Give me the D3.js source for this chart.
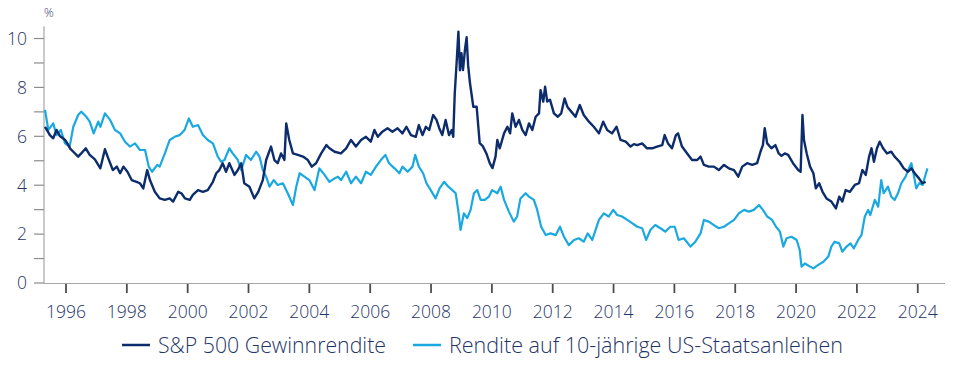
<!DOCTYPE html>
<html><head><meta charset="utf-8">
<script src="https://cdn.jsdelivr.net/npm/d3@7"></script>
<style>
html,body{margin:0;padding:0;background:#fff;}
svg text{font-family:"Open Sans","Noto Sans",sans-serif;font-weight:300;fill:#1f3566;}
</style></head>
<body><svg id="chart" width="954" height="369"></svg>
<script>
const seriesNames = ["S&P 500 Gewinnrendite", "Rendite auf 10-jährige US-Staatsanleihen"];
const seriesColors = ["#0c2c6c", "#1aa8e0"];
const xTicks = [1996,1998,2000,2002,2004,2006,2008,2010,2012,2014,2016,2018,2020,2022,2024];
const yTicks = [0,2,4,6,8,10];
const yMinorTicks = [1,3,5,7,9];

const spDates = [1995.31,1995.40,1995.47,1995.58,1995.69,1995.80,1995.97,1996.05,1996.13,1996.24,1996.40,1996.50,1996.65,1996.78,1996.95,1997.13,1997.28,1997.39,1997.54,1997.67,1997.78,1997.89,1998.02,1998.16,1998.32,1998.43,1998.54,1998.67,1998.76,1998.92,1999.08,1999.25,1999.41,1999.52,1999.69,1999.80,1999.91,2000.07,2000.17,2000.34,2000.50,2000.66,2000.83,2000.94,2001.04,2001.15,2001.26,2001.37,2001.54,2001.65,2001.76,2001.86,2002.03,2002.19,2002.32,2002.47,2002.58,2002.74,2002.85,2002.96,2003.07,2003.18,2003.24,2003.34,2003.46,2003.62,2003.79,2003.95,2004.08,2004.22,2004.39,2004.56,2004.66,2004.83,2005.04,2005.21,2005.37,2005.53,2005.70,2005.86,2006.02,2006.14,2006.25,2006.40,2006.57,2006.73,2006.90,2007.06,2007.19,2007.34,2007.50,2007.60,2007.72,2007.83,2007.94,2008.07,2008.18,2008.27,2008.37,2008.48,2008.59,2008.68,2008.73,2008.78,2008.84,2008.90,2008.95,2009.00,2009.05,2009.12,2009.17,2009.22,2009.28,2009.39,2009.50,2009.60,2009.70,2009.82,2009.93,2010.02,2010.12,2010.18,2010.26,2010.40,2010.51,2010.60,2010.67,2010.78,2010.89,2011.00,2011.11,2011.22,2011.33,2011.44,2011.55,2011.60,2011.69,2011.75,2011.82,2011.91,2012.04,2012.17,2012.28,2012.39,2012.48,2012.61,2012.75,2012.89,2013.02,2013.19,2013.35,2013.52,2013.66,2013.79,2013.95,2014.10,2014.23,2014.40,2014.56,2014.67,2014.78,2014.94,2015.10,2015.27,2015.43,2015.60,2015.68,2015.79,2015.92,2016.05,2016.12,2016.25,2016.42,2016.58,2016.75,2016.86,2016.97,2017.13,2017.30,2017.46,2017.63,2017.79,2017.96,2018.10,2018.23,2018.39,2018.56,2018.72,2018.83,2018.91,2018.97,2019.05,2019.19,2019.32,2019.43,2019.52,2019.63,2019.74,2019.90,2020.07,2020.15,2020.21,2020.26,2020.35,2020.46,2020.57,2020.65,2020.76,2020.87,2021.00,2021.16,2021.31,2021.42,2021.52,2021.63,2021.77,2021.93,2022.07,2022.18,2022.29,2022.40,2022.48,2022.56,2022.66,2022.75,2022.86,2022.99,2023.13,2023.24,2023.40,2023.54,2023.68,2023.79,2023.90,2024.04,2024.15,2024.26];
const spValues = [6.39,6.20,6.05,5.92,6.26,6.01,5.85,5.70,5.51,5.37,5.17,5.30,5.51,5.24,5.06,4.69,5.47,5.10,4.62,4.76,4.49,4.76,4.55,4.21,4.14,4.08,3.87,4.62,4.21,3.73,3.46,3.40,3.46,3.33,3.73,3.66,3.46,3.40,3.60,3.80,3.73,3.80,4.14,4.49,4.62,4.90,4.55,4.90,4.42,4.62,4.90,4.08,3.94,3.46,3.73,4.21,5.03,5.58,5.03,4.90,5.30,5.03,6.53,5.85,5.30,5.24,5.17,5.03,4.76,4.90,5.30,5.64,5.51,5.37,5.30,5.51,5.85,5.58,5.85,5.98,5.78,6.26,5.98,6.19,6.33,6.19,6.33,6.12,6.39,6.05,5.98,6.46,6.05,6.39,6.26,6.87,6.67,6.33,6.05,6.67,6.05,6.26,5.98,7.76,8.99,10.28,8.70,9.40,8.71,9.60,10.05,8.90,8.18,7.21,7.21,5.72,5.60,5.30,4.90,4.70,5.17,5.85,5.51,6.12,6.39,6.12,6.94,6.39,6.67,6.26,6.05,6.53,6.26,6.80,6.94,7.89,7.42,8.03,7.42,7.50,6.94,6.80,6.94,7.55,7.21,7.01,6.80,7.28,6.87,6.60,6.39,6.12,6.60,6.26,6.12,6.39,5.85,5.78,5.58,5.68,5.64,5.71,5.51,5.51,5.58,5.64,6.05,5.71,5.51,6.05,6.12,5.58,5.30,5.03,5.03,5.17,4.83,4.76,4.76,4.62,4.83,4.69,4.62,4.35,4.76,4.90,4.83,4.90,5.37,5.64,6.33,5.71,5.51,5.64,5.30,5.20,5.30,5.24,4.90,4.62,4.55,6.87,5.85,5.30,4.76,4.49,3.87,4.08,3.73,3.46,3.33,3.05,3.53,3.33,3.80,3.73,4.01,4.08,4.62,4.42,5.17,5.51,4.96,5.51,5.78,5.51,5.30,5.37,5.17,4.96,4.69,4.55,4.69,4.49,4.28,4.08,4.14];

const tyDates = [1995.31,1995.42,1995.58,1995.69,1995.83,1995.97,1996.12,1996.24,1996.40,1996.50,1996.67,1996.78,1996.91,1997.06,1997.13,1997.28,1997.45,1997.61,1997.78,1997.94,1998.10,1998.27,1998.43,1998.60,1998.72,1998.83,1999.00,1999.08,1999.25,1999.41,1999.57,1999.74,1999.90,2000.04,2000.17,2000.34,2000.50,2000.66,2000.83,2000.99,2001.10,2001.21,2001.37,2001.48,2001.65,2001.76,2001.92,2002.08,2002.25,2002.36,2002.47,2002.58,2002.69,2002.83,2002.96,2003.13,2003.29,2003.46,2003.57,2003.68,2003.84,2004.00,2004.17,2004.33,2004.50,2004.66,2004.83,2004.94,2005.04,2005.21,2005.37,2005.53,2005.70,2005.86,2006.02,2006.19,2006.35,2006.50,2006.62,2006.80,2006.96,2007.06,2007.23,2007.39,2007.48,2007.60,2007.74,2007.85,2007.99,2008.15,2008.28,2008.43,2008.57,2008.70,2008.81,2008.90,2008.97,2009.08,2009.19,2009.30,2009.41,2009.52,2009.63,2009.77,2009.90,2010.01,2010.18,2010.29,2010.40,2010.56,2010.72,2010.83,2010.94,2011.11,2011.22,2011.38,2011.49,2011.62,2011.77,2011.93,2012.10,2012.24,2012.37,2012.53,2012.70,2012.86,2013.02,2013.15,2013.30,2013.41,2013.52,2013.68,2013.84,2013.99,2014.12,2014.28,2014.45,2014.62,2014.78,2014.94,2015.07,2015.21,2015.37,2015.54,2015.70,2015.87,2016.01,2016.14,2016.31,2016.53,2016.69,2016.86,2016.97,2017.13,2017.30,2017.46,2017.63,2017.79,2017.96,2018.12,2018.29,2018.45,2018.61,2018.78,2018.91,2019.05,2019.21,2019.34,2019.47,2019.58,2019.69,2019.85,2020.02,2020.12,2020.18,2020.29,2020.46,2020.57,2020.73,2020.90,2021.06,2021.16,2021.27,2021.42,2021.52,2021.66,2021.79,2021.90,2022.04,2022.15,2022.26,2022.37,2022.44,2022.59,2022.70,2022.80,2022.88,2023.02,2023.13,2023.24,2023.35,2023.46,2023.60,2023.71,2023.79,2023.86,2023.95,2024.05,2024.16,2024.27,2024.32];
const tyValues = [7.08,6.26,6.53,6.05,6.26,5.71,5.58,6.39,6.87,7.01,6.80,6.60,6.12,6.60,6.39,6.94,6.67,6.26,6.12,5.78,5.58,5.71,5.44,5.44,4.76,4.55,4.83,4.76,5.30,5.85,5.98,6.05,6.26,6.73,6.39,6.46,6.05,5.85,5.71,5.17,4.96,5.03,5.51,5.30,5.03,4.62,5.24,5.03,5.37,5.17,4.62,4.35,3.94,4.21,4.01,4.08,3.67,3.19,3.94,4.49,4.35,4.21,3.80,4.69,4.42,4.14,4.28,4.35,4.21,4.55,4.08,4.35,4.08,4.55,4.42,4.76,5.03,5.24,4.90,4.69,4.49,4.76,4.55,4.76,5.24,4.76,4.49,4.08,3.80,3.46,3.87,4.14,3.94,3.80,3.67,2.92,2.17,2.85,2.65,2.99,3.67,3.80,3.40,3.40,3.53,3.80,3.67,3.94,3.40,2.92,2.51,2.72,3.46,3.67,3.53,3.40,2.99,2.30,1.96,2.03,1.96,2.30,1.89,1.55,1.76,1.83,1.69,2.03,1.76,2.17,2.58,2.85,2.72,2.99,2.78,2.72,2.58,2.44,2.30,2.24,1.76,2.17,2.37,2.24,2.10,2.30,2.30,1.76,1.83,1.49,1.69,2.03,2.58,2.51,2.37,2.24,2.30,2.44,2.58,2.85,2.99,2.92,2.99,3.19,2.99,2.72,2.58,2.30,2.10,1.49,1.83,1.89,1.76,1.35,0.67,0.80,0.67,0.60,0.74,0.87,1.08,1.49,1.69,1.62,1.28,1.49,1.62,1.42,1.76,1.96,2.72,2.99,2.78,3.40,3.12,4.21,3.67,3.94,3.53,3.40,3.67,4.08,4.35,4.69,4.90,4.49,3.87,4.08,4.01,4.49,4.69];

const svg = d3.select("#chart");
const x = d3.scaleLinear().domain([1995.277, 2024.896]).range([44, 945]);
const y = d3.scaleLinear().domain([0, 10.5]).range([283, 26.3]);

// y axis line and ticks
svg.append("line").attr("x1",44).attr("x2",44).attr("y1",y(10.5)).attr("y2",y(0))
  .attr("stroke","#a6a6a6").attr("stroke-width",1.2);
svg.selectAll(".ytick").data(yTicks.concat(yMinorTicks)).enter().append("line")
  .attr("x1",34).attr("x2",44).attr("y1",d=>y(d)).attr("y2",d=>y(d))
  .attr("stroke","#8c8c8c").attr("stroke-width",1.2);
svg.selectAll(".ylab").data(yTicks).enter().append("text")
  .attr("x",27).attr("y",d=>y(d)).attr("dy","0.36em").attr("text-anchor","end")
  .style("font-size","17.5px").text(d=>d);
svg.append("text").attr("x",44).attr("y",17).style("font-size","12px").text("%");

// x axis
svg.append("line").attr("x1",44).attr("x2",945).attr("y1",283.5).attr("y2",283.5)
  .attr("stroke","#a6a6a6").attr("stroke-width",1.2);
svg.selectAll(".xtick").data(xTicks).enter().append("line")
  .attr("x1",d=>x(d)).attr("x2",d=>x(d)).attr("y1",284).attr("y2",293)
  .attr("stroke","#4d4d4d").attr("stroke-width",1.8);
svg.selectAll(".xlab").data(xTicks).enter().append("text")
  .attr("x",d=>x(d)).attr("y",318).attr("text-anchor","middle")
  .style("font-size","17.5px").text(d=>d);

// series
const line = d3.line().x(d=>x(d[0])).y(d=>y(d[1]));
const tyData = d3.zip(tyDates, tyValues);
const spData = d3.zip(spDates, spValues);
svg.append("path").datum(tyData).attr("d",line).attr("fill","none")
  .attr("stroke",seriesColors[1]).attr("stroke-width",2.2).attr("stroke-linejoin","round");
svg.append("path").datum(spData).attr("d",line).attr("fill","none")
  .attr("stroke",seriesColors[0]).attr("stroke-width",2.4).attr("stroke-linejoin","round");

// legend
const legendItems = [
  {lx:122, tx:158, w:228},
  {lx:413, tx:449, w:394}
];
legendItems.forEach((it,i)=>{
  svg.append("line").attr("x1",it.lx).attr("x2",it.lx+28).attr("y1",345).attr("y2",345)
    .attr("stroke",seriesColors[i]).attr("stroke-width",2.5);
  const t = svg.append("text").attr("x",it.tx).attr("y",353).style("font-size","20px").text(seriesNames[i]);
  const len = t.node().getComputedTextLength();
  t.style("font-size", (20*it.w/len).toFixed(2)+"px");
});
</script></body></html>
